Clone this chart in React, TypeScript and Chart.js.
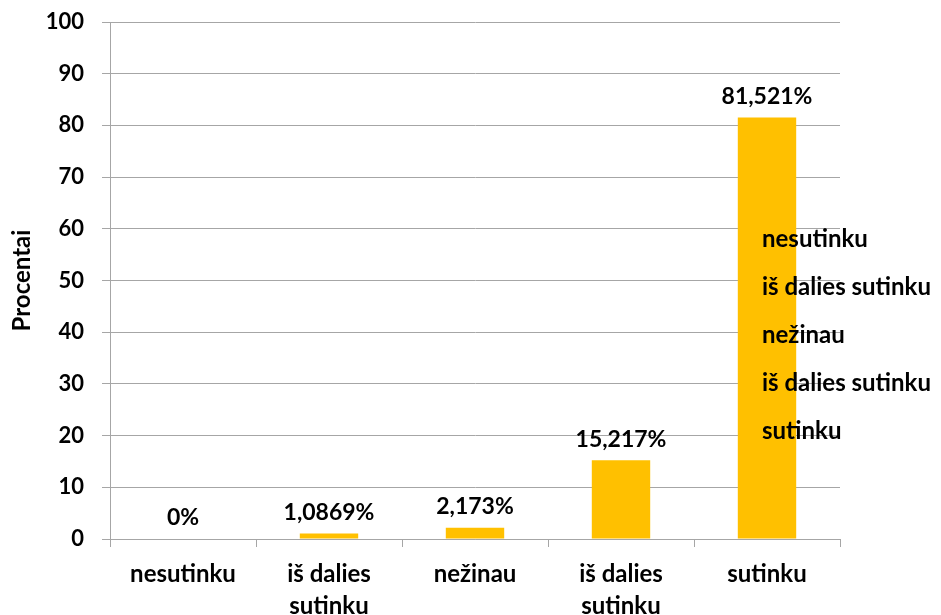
import React, { useEffect, useRef } from "react";
import { Chart, registerables } from "chart.js";

Chart.register(...registerables);

const categories: (string | string[])[] = [
  "nesutinku",
  ["iš dalies", "sutinku"],
  "nežinau",
  ["iš dalies", "sutinku"],
  "sutinku",
];
const values: number[] = [0, 1.0869, 2.173, 15.217, 81.521];
const valueLabels: string[] = ["0%", "1,0869%", "2,173%", "15,217%", "81,521%"];
const legendLabels: string[] = [
  "nesutinku",
  "iš dalies sutinku",
  "nežinau",
  "iš dalies sutinku",
  "sutinku",
];
const axisTitle = "Procentai";

const FONT = "Lato, 'Open Sans', sans-serif";

const labelPlugin = {
  id: "valueLabels",
  afterDatasetsDraw(chart: any) {
    const ctx = chart.ctx;
    const meta = chart.getDatasetMeta(0);
    ctx.save();
    ctx.font = `bold 23px ${FONT}`;
    ctx.fillStyle = "#000";
    ctx.textAlign = "center";
    ctx.textBaseline = "middle";
    meta.data.forEach((el: any, i: number) => {
      ctx.fillText(valueLabels[i], el.x, el.y - 21);
    });
    ctx.restore();
  },
};

const legendPlugin = {
  id: "textLegend",
  afterDraw(chart: any) {
    const ctx = chart.ctx;
    const area = chart.chartArea;
    ctx.save();
    ctx.font = `bold 24px ${FONT}`;
    ctx.fillStyle = "#000";
    ctx.textAlign = "left";
    ctx.textBaseline = "middle";
    const x = area.right - 78;
    legendLabels.forEach((t, i) => {
      ctx.fillText(t, x, 239 + i * 48);
    });
    ctx.restore();
  },
};

export default function App() {
  const ref = useRef<HTMLCanvasElement>(null);
  useEffect(() => {
    document.body.style.margin = "0";
    const chart = new Chart(ref.current!, {
      type: "bar",
      data: {
        labels: categories,
        datasets: [
          {
            data: values,
            backgroundColor: "#FFC000",
            barPercentage: 0.4,
            categoryPercentage: 1,
          },
        ],
      },
      options: {
        animation: false,
        responsive: false,
        layout: { padding: { top: 22, right: 101, left: 0, bottom: 0 } },
        plugins: { legend: { display: false }, tooltip: { enabled: false } },
        scales: {
          x: {
            grid: {
              drawOnChartArea: false,
              offset: true,
              tickLength: 8,
              color: "#a6a6a6",
            },
            border: { color: "#a6a6a6" },
            ticks: {
              color: "#000",
              font: { family: FONT, size: 24, weight: "bold", lineHeight: 1.3 },
              padding: 12,
              maxRotation: 0,
              autoSkip: false,
            },
            afterFit(scale: any) {
              scale.height = 76;
            },
          },
          y: {
            min: 0,
            max: 100,
            ticks: {
              stepSize: 10,
              color: "#000",
              font: { family: FONT, size: 22, weight: "bold" },
              padding: 18,
            },
            grid: { color: "#a6a6a6", tickLength: 8 },
            border: { color: "#a6a6a6" },
            title: {
              display: true,
              text: axisTitle,
              color: "#000",
              font: { family: FONT, size: 24, weight: "bold" },
              padding: { top: 8, bottom: 0 },
            },
            afterFit(scale: any) {
              scale.width = 110;
              scale.paddingTop = 0;
              scale.paddingBottom = 0;
            },
          },
        },
      },
      plugins: [labelPlugin, legendPlugin],
    });
    return () => chart.destroy();
  }, []);
  return <canvas ref={ref} width={941} height={615} style={{ display: "block" }} />;
}
